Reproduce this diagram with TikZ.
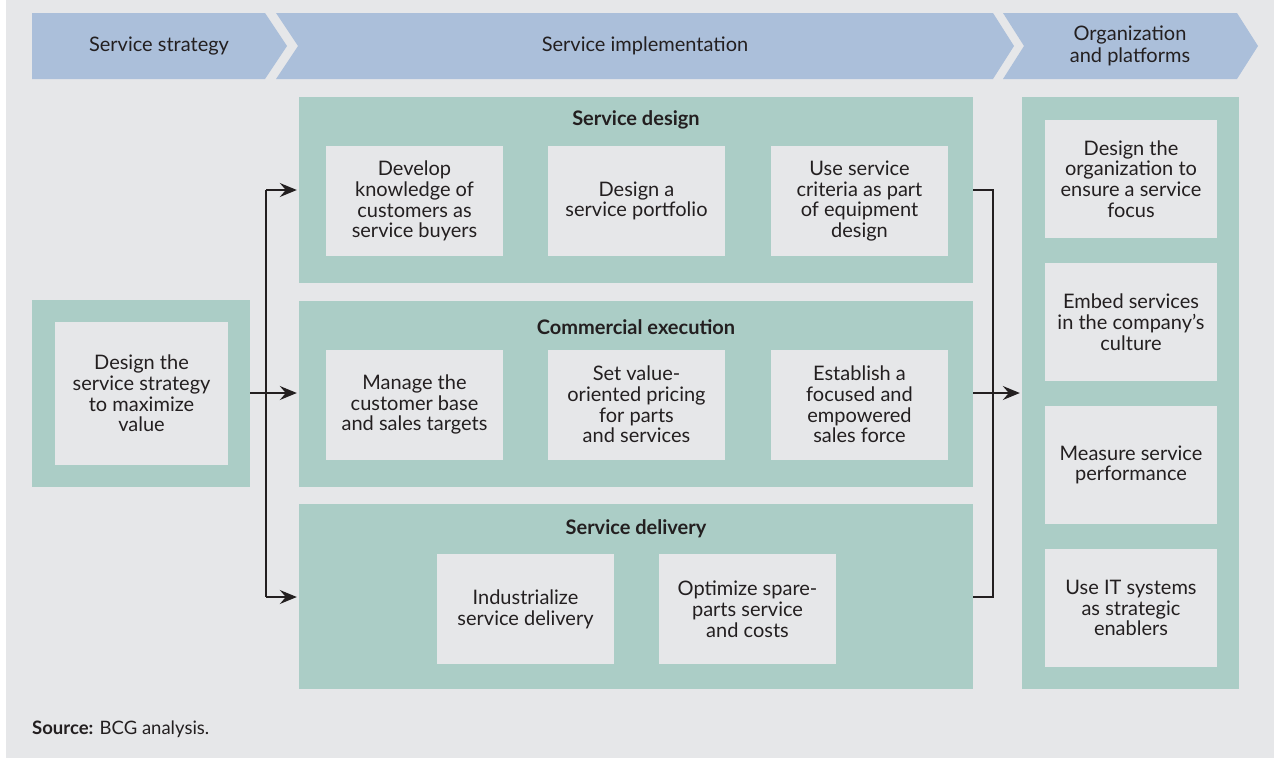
\documentclass[tikz,border=0pt]{standalone}
\usepackage{fontspec}
\setmainfont{Lato}
\usetikzlibrary{arrows.meta}
\definecolor{bg}{HTML}{E6E7E9}
\definecolor{banner}{HTML}{ABBFDA}
\definecolor{grn}{HTML}{ABCDC6}
\definecolor{ink}{HTML}{231F20}
\tikzset{
  grnbox/.style={fill=grn, draw=none, inner sep=0pt},
  cell/.style={fill=bg, draw=none, inner sep=0pt, minimum width=177pt, minimum height=110pt,
    align=center, text=ink, font=\fontsize{20}{20.8}\selectfont},
  orgcell/.style={cell, minimum width=172pt, minimum height=118pt},
  ttl/.style={text=ink, font=\fontsize{20}{20.8}\selectfont\bfseries, inner sep=0pt},
  bantxt/.style={text=ink, font=\fontsize{20}{21.5}\selectfont, align=center, inner sep=0pt},
  conn/.style={draw=ink, line width=1.3pt},
  arr/.style={conn, -{Stealth[length=17pt,width=14pt,inset=6pt]}}
}
\begin{document}
\begin{tikzpicture}[x=1pt,y=-1pt]
\useasboundingbox (0,0) rectangle (1274,758);
\fill[bg] (6,0) rectangle (1274,758);
% banner chevrons
\fill[banner] (32,13) -- (265,13) -- (287,46) -- (265,79) -- (32,79) -- cycle;
\fill[banner] (276,13) -- (993,13) -- (1014,46) -- (993,79) -- (276,79) -- (298,46) -- cycle;
\fill[banner] (1003,13) -- (1237,13) -- (1258,46) -- (1237,79) -- (1003,79) -- (1024,46) -- cycle;
\node[bantxt] (b1) at (159,46) {Service strategy};
\node[bantxt] (b2) at (645,46) {Service implementation};
\node[bantxt] (b3) at (1130,46) {Organization\\and platforms};
% green containers
\node[grnbox, minimum width=218pt, minimum height=187pt] (strat) at (141,393.5) {};
\node[grnbox, minimum width=674pt, minimum height=186pt] (design) at (636,190) {};
\node[grnbox, minimum width=674pt, minimum height=186pt] (comm) at (636,394) {};
\node[grnbox, minimum width=674pt, minimum height=185pt] (deliv) at (636,596.5) {};
\node[grnbox, minimum width=217pt, minimum height=592pt] (org) at (1130.5,393) {};
% titles
\node[ttl] (t1) at (636,120) {Service design};
\node[ttl] (t2) at (636,327) {Commercial execution};
\node[ttl] (t3) at (636,529) {Service delivery};
% cells
\node[cell, minimum width=173pt, minimum height=143pt] (s1) at (141.5,393.5) {Design the\\service strategy\\to maximize\\value};
\node[cell] (d1) at (414.5,201) {Develop\\knowledge of\\customers as\\service buyers};
\node[cell] (d2) at (636.5,201) {Design a\\service portfolio};
\node[cell] (d3) at (859.5,201) {Use service\\criteria as part\\of equipment\\design};
\node[cell] (c1) at (414.5,404.5) {Manage the\\customer base\\and sales targets};
\node[cell] (c2) at (636.5,404.5) {Set value-\\oriented pricing\\for parts\\and services};
\node[cell] (c3) at (859.5,404.5) {Establish a\\focused and\\empowered\\sales force};
\node[cell] (v1) at (525.5,609) {Industrialize\\service delivery};
\node[cell] (v2) at (747.5,609) {Optimize spare-\\parts service\\and costs};
\node[orgcell] (o1) at (1131,179) {Design the\\organization to\\ensure a service\\focus};
\node[orgcell] (o2) at (1131,322) {Embed services\\in the company’s\\culture};
\node[orgcell] (o3) at (1131,465) {Measure service\\performance};
\node[orgcell] (o4) at (1131,608) {Use IT systems\\as strategic\\enablers};
% connectors
\coordinate (lsplit) at (266,393);
\coordinate (ltop) at (266,190);
\coordinate (lbot) at (266,597);
\draw[arr] (strat.east |- lsplit) -- ([xshift=-2pt]comm.west |- lsplit);
\draw[arr] (lbot |- design.west) -- (ltop) -- ([xshift=-2pt]design.west);
\draw[conn] (ltop) -- (lbot);
\draw[arr] (lbot) -- ([xshift=-2pt]deliv.west |- lbot);
\coordinate (rtop) at (993,190);
\coordinate (rbot) at (993,597);
\draw[conn] (design.east |- rtop) -- (rtop) -- (rbot) -- (deliv.east |- rbot);
\draw[arr] (comm.east |- lsplit) -- ([xshift=-2pt]org.west |- lsplit);
% source
\node[anchor=west, text=ink, font=\fontsize{18.5}{21}\selectfont, inner sep=0pt] (src) at (32,729) {\textbf{Source:} BCG analysis.};
\end{tikzpicture}
\end{document}
